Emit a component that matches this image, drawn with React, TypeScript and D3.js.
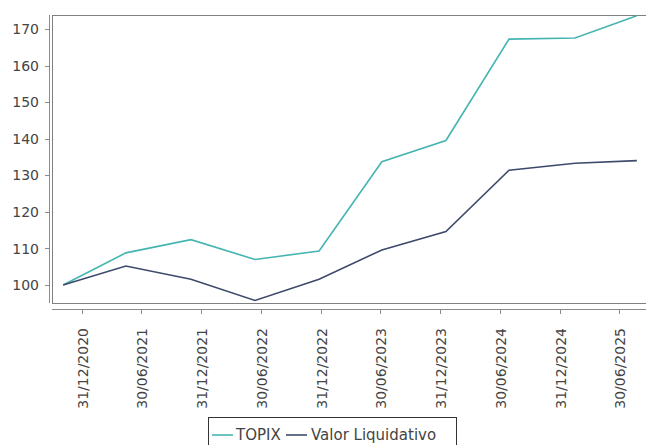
import React from "react";
import * as d3 from "d3";

const dates: string[] = [
  "2020-11-03", "2021-05-14", "2021-11-29", "2022-06-13", "2022-12-26",
  "2023-07-06", "2024-01-18", "2024-07-29", "2025-02-16", "2025-08-24",
];
const topix: number[] = [100, 108.8, 112.4, 107.0, 109.3, 133.7, 139.5, 167.2, 167.5, 173.6];
const valor: number[] = [100, 105.2, 101.6, 95.8, 101.6, 109.6, 114.6, 131.4, 133.3, 134.0];
const xTickDates: string[] = [
  "2020-12-31", "2021-06-30", "2021-12-31", "2022-06-30", "2022-12-31",
  "2023-06-30", "2023-12-31", "2024-06-30", "2024-12-31", "2025-06-30",
];
const yTicks: number[] = [100, 110, 120, 130, 140, 150, 160, 170];
const seriesNames: string[] = ["TOPIX", "Valor Liquidativo"];
const seriesColors: string[] = ["#45b5b1", "#3e4a6c"];

const W = 646, H = 445;
const L = 52, R = 646, T = 15, B = 303;
const parse = d3.utcParse("%Y-%m-%d");
const fmt = d3.utcFormat("%d/%m/%Y");

export default function App() {
  const x = d3.scaleUtc()
    .domain([parse("2020-09-30")!, parse("2025-09-21")!])
    .range([L, R]);
  const y = d3.scaleLinear().domain([95.1, 173.8]).range([B, T]);
  const pts = dates.map((d) => parse(d)!);
  const line = d3.line<[Date, number]>().x((d) => x(d[0])).y((d) => y(d[1]));
  const series = [topix, valor];
  const font = "'DejaVu Sans', sans-serif";
  const axisColor = "#8a8a8a";
  const textColor = "#444";

  return (
    <svg width={W} height={H} style={{ position: "absolute", left: 0, top: 0 }}>
      <rect x={0} y={0} width={W} height={H} fill="#fff" />
      {/* plot box */}
      <rect x={L + 0.5} y={T + 0.5} width={R - L + 5} height={B - T} fill="#fff" stroke="#808080" strokeWidth={1} />
      {/* y axis */}
      <line x1={49.5} x2={49.5} y1={T} y2={B} stroke={axisColor} />
      {yTicks.map((v) => (
        <g key={v}>
          <line x1={45} x2={49} y1={Math.round(y(v)) + 0.5} y2={Math.round(y(v)) + 0.5} stroke={axisColor} />
          <text x={39} y={y(v)} dy="0.36em" textAnchor="end" fontFamily={font} fontSize={14} fill={textColor}>{v}</text>
        </g>
      ))}
      {/* x axis */}
      <line x1={L} x2={R} y1={309.5} y2={309.5} stroke={axisColor} />
      {xTickDates.map((d) => {
        const px = Math.round(x(parse(d)!)) + 0.5;
        return (
          <g key={d}>
            <line x1={px} x2={px} y1={310} y2={314} stroke={axisColor} />
            <text transform={`translate(${px},${328}) rotate(-90)`} dy="0.36em" textAnchor="end" fontFamily={font} fontSize={14} fill={textColor}>{fmt(parse(d)!)}</text>
          </g>
        );
      })}
      {/* lines */}
      {series.map((s, i) => (
        <path key={i} d={line(pts.map((p, j) => [p, s[j]] as [Date, number])) || ""} fill="none" stroke={seriesColors[i]} strokeWidth={1.6} />
      ))}
      {/* legend */}
      <rect x={208.5} y={417.5} width={248} height={32} fill="#fff" stroke="#333" strokeWidth={1} />
      <line x1={212} x2={233} y1={435} y2={435} stroke={seriesColors[0]} strokeWidth={1.6} />
      <text x={236} y={435} dy="0.36em" fontFamily={font} fontSize={15} fill={textColor}>{seriesNames[0]}</text>
      <line x1={286} x2={307} y1={435} y2={435} stroke={seriesColors[1]} strokeWidth={1.6} />
      <text x={311} y={435} dy="0.36em" fontFamily={font} fontSize={15} fill={textColor}>{seriesNames[1]}</text>
    </svg>
  );
}
